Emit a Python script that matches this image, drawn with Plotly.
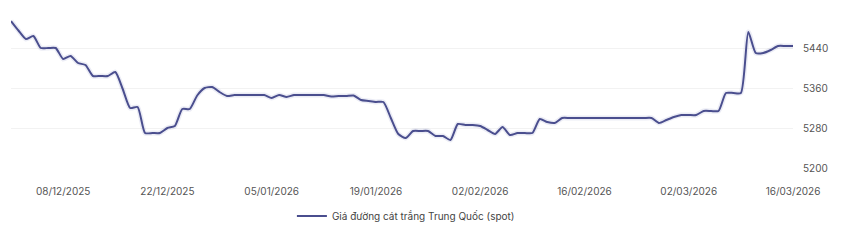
import plotly.graph_objects as go
import pandas as pd

start_date = "2025-12-01"
prices = [
    5494, 5475, 5458, 5464, 5440, 5440, 5440, 5418, 5424, 5410,
    5406, 5384, 5384, 5384, 5392, 5358, 5320, 5322, 5270, 5270,
    5270, 5280, 5284, 5318, 5318, 5345, 5360, 5362, 5352, 5344,
    5346, 5346, 5346, 5346, 5346, 5340, 5346, 5342, 5346, 5346,
    5346, 5346, 5346, 5343, 5344, 5344, 5345, 5336, 5334, 5332,
    5332, 5300, 5268, 5260, 5274, 5274, 5274, 5264, 5264, 5256,
    5288, 5286, 5286, 5284, 5276, 5268, 5282, 5266, 5270, 5270,
    5270, 5298, 5292, 5290, 5300, 5300, 5300, 5300, 5300, 5300,
    5300, 5300, 5300, 5300, 5300, 5300, 5300, 5290, 5296, 5302,
    5306, 5306, 5306, 5314, 5314, 5314, 5350, 5350, 5350, 5472,
    5430, 5430, 5436, 5444, 5444, 5444,
]
dates = pd.date_range(start_date, periods=len(prices), freq="D")

x_tick_dates = ["2025-12-08", "2025-12-22", "2026-01-05", "2026-01-19",
                "2026-02-02", "2026-02-16", "2026-03-02", "2026-03-16"]
x_tick_labels = ["08/12/2025", "22/12/2025", "05/01/2026", "19/01/2026",
                 "02/02/2026", "16/02/2026", "02/03/2026", "16/03/2026"]
y_tick_vals = [5200, 5280, 5360, 5440, 5520]
y_tick_text = ["5200", "5280", "5360", "5440", ""]
series_name = "Giá đường cát trắng Trung Quốc (spot)"

fig = go.Figure()
# soft shadow
fig.add_trace(go.Scatter(
    x=dates, y=prices, mode="lines", showlegend=False, hoverinfo="skip",
    line=dict(color="rgba(90,95,170,0.12)", width=5, shape="spline", smoothing=0.6),
))
fig.add_trace(go.Scatter(
    x=dates, y=prices, mode="lines", name=series_name,
    line=dict(color="#4a4e8e", width=2, shape="spline", smoothing=0.6),
))

fig.update_layout(
    width=847, height=241,
    margin=dict(l=11, r=54, t=8, b=73),
    paper_bgcolor="white", plot_bgcolor="white",
    font=dict(family="Inter, Open Sans, sans-serif", size=10, color="#555"),
    showlegend=True,
    legend=dict(orientation="h", x=0.505, xanchor="center", y=-0.30, yanchor="middle",
                font=dict(size=10, color="#444"), itemwidth=30),
    xaxis=dict(
        range=[dates[0], dates[-1]],
        tickvals=pd.to_datetime(x_tick_dates), ticktext=x_tick_labels,
        showgrid=False, zeroline=False, showline=False, ticks="",
        ticklabelstandoff=16, tickfont=dict(size=10, color="#555"),
    ),
    yaxis=dict(
        range=[5200, 5520], side="right",
        tickvals=y_tick_vals, ticktext=y_tick_text,
        showgrid=True, gridcolor="#f2f2f2", gridwidth=1,
        zeroline=False, showline=False, ticks="",
        ticklabelstandoff=9, tickfont=dict(size=10, color="#555"),
    ),
)

fig.write_html("out.html")
